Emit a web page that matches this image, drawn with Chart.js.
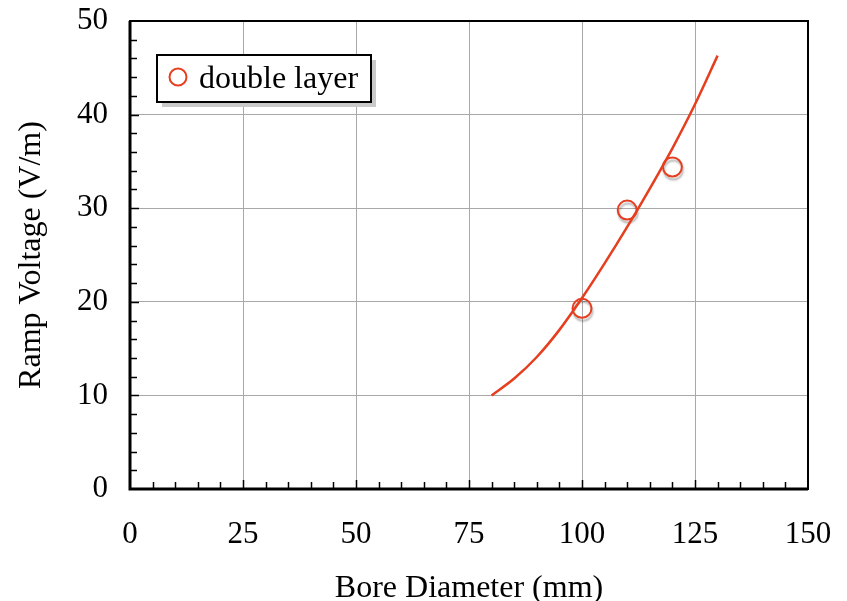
<!DOCTYPE html>
<html lang="en">
<head>
    <meta charset="UTF-8">
    <title>Ramp Voltage vs Bore Diameter</title>
    <script src="https://cdn.jsdelivr.net/npm/chart.js"></script>
    <style>
        * { margin: 0; padding: 0; box-sizing: border-box; }
        body { background: #fff; width: 847px; height: 601px; overflow: hidden; }
        canvas { display: block; }
    </style>
</head>
<body>
    <canvas id="rampChart" width="847" height="601"></canvas>

    <script>
        // fitted curve
        const curveX = [80, 85, 90, 95, 100, 105, 110, 115, 120, 125, 130];
        const curveY = [10, 11.8, 14.1, 17.0, 20.4, 24.1, 28.0, 32.1, 36.4, 41.1, 46.3];

        // measured points
        const seriesName = 'double layer';
        const pointX = [100, 110, 120];
        const pointY = [19.3, 29.8, 34.4];

        // axes
        const xRange = [0, 150];
        const xStep = 25;
        const xMinor = 5;
        const yRange = [0, 50];
        const yStep = 10;
        const yMinor = 2;
        const xTitle = 'Bore Diameter (mm)';
        const yTitle = 'Ramp Voltage (V/m)';

        const RED = '#e63e1e';
        const SERIF = "'Liberation Serif', 'DejaVu Serif', serif";

        // shadow under the circles
        const shadowPlugin = {
            id: 'shadow',
            beforeDatasetDraw(chart, args) {
                if (args.index !== 1) return;
                const ctx = chart.ctx;
                ctx.save();
                ctx.shadowColor = 'rgba(0,0,0,0.3)';
                ctx.shadowOffsetX = 1;
                ctx.shadowOffsetY = 3;
                ctx.shadowBlur = 2;
            },
            afterDatasetDraw(chart, args) {
                if (args.index !== 1) return;
                chart.ctx.restore();
            }
        };

        // frame, inward ticks and the boxed legend
        const framePlugin = {
            id: 'frame',
            afterDraw(chart) {
                const ctx = chart.ctx;
                const a = chart.chartArea;
                const xs = chart.scales.x, ys = chart.scales.y;
                ctx.save();
                ctx.strokeStyle = '#000';

                // minor / major ticks pointing inside
                ctx.lineWidth = 1.5;
                ctx.beginPath();
                for (let v = xRange[0] + xMinor; v < xRange[1]; v += xMinor) {
                    const px = Math.round(xs.getPixelForValue(v)) + 0.5;
                    const len = v % xStep === 0 ? 9 : 7;
                    ctx.moveTo(px, a.bottom);
                    ctx.lineTo(px, a.bottom - len);
                }
                for (let v = yRange[0] + yMinor; v < yRange[1]; v += yMinor) {
                    const py = Math.round(ys.getPixelForValue(v)) + 0.5;
                    const len = v % yStep === 0 ? 9 : 7;
                    ctx.moveTo(a.left, py);
                    ctx.lineTo(a.left + len, py);
                }
                ctx.stroke();

                // box
                ctx.lineWidth = 2;
                ctx.strokeRect(a.left, a.top, a.right - a.left, a.bottom - a.top);
                ctx.lineWidth = 3;
                ctx.beginPath();
                ctx.moveTo(a.left, a.top);
                ctx.lineTo(a.left, a.bottom);
                ctx.lineTo(a.right, a.bottom);
                ctx.stroke();

                // legend
                const lx = 157, ly = 55, lw = 214, lh = 47;
                ctx.fillStyle = '#c9c9c9';
                ctx.fillRect(lx + 5, ly + 5, lw, lh);
                ctx.fillStyle = '#fff';
                ctx.fillRect(lx, ly, lw, lh);
                ctx.lineWidth = 2;
                ctx.strokeRect(lx, ly, lw, lh);
                ctx.strokeStyle = RED;
                ctx.beginPath();
                ctx.arc(lx + 21, ly + 22, 8.5, 0, Math.PI * 2);
                ctx.stroke();
                ctx.fillStyle = '#000';
                ctx.font = '32px ' + SERIF;
                ctx.textBaseline = 'alphabetic';
                ctx.fillText(chart.data.datasets[1].label, lx + 42, ly + 33);
                ctx.restore();
            }
        };

        const ctx = document.getElementById('rampChart').getContext('2d');
        new Chart(ctx, {
            type: 'scatter',
            data: {
                datasets: [{
                    label: 'fit',
                    type: 'line',
                    data: curveX.map((x, i) => ({ x: x, y: curveY[i] })),
                    borderColor: RED,
                    borderWidth: 2.5,
                    pointRadius: 0,
                    cubicInterpolationMode: 'monotone',
                    fill: false,
                    order: 1
                }, {
                    label: seriesName,
                    data: pointX.map((x, i) => ({ x: x, y: pointY[i] })),
                    borderColor: RED,
                    backgroundColor: 'rgba(0,0,0,0)',
                    borderWidth: 2,
                    pointRadius: 9.5,
                    pointStyle: 'circle',
                    order: 2
                }]
            },
            options: {
                responsive: false,
                animation: false,
                layout: { padding: { top: 21, right: 39, left: 0, bottom: 0 } },
                plugins: {
                    legend: { display: false },
                    tooltip: { enabled: false }
                },
                scales: {
                    x: {
                        type: 'linear',
                        min: xRange[0],
                        max: xRange[1],
                        afterFit(scale) {
                            scale.height = 112;
                            scale.paddingLeft = 0;
                            scale.paddingRight = 0;
                        },
                        grid: { color: '#a8a8a8', lineWidth: 1, drawTicks: false },
                        border: { display: false },
                        ticks: {
                            stepSize: xStep,
                            autoSkip: false,
                            maxRotation: 0,
                            padding: 27,
                            color: '#000',
                            font: { family: SERIF, size: 31 }
                        },
                        title: {
                            display: true,
                            text: xTitle,
                            color: '#000',
                            font: { family: SERIF, size: 32, lineHeight: 0.8 },
                            padding: 0
                        }
                    },
                    y: {
                        min: yRange[0],
                        max: yRange[1],
                        afterFit(scale) {
                            scale.width = 130;
                            scale.paddingTop = 0;
                            scale.paddingBottom = 0;
                        },
                        grid: { color: '#a8a8a8', lineWidth: 1, drawTicks: false },
                        border: { display: false },
                        ticks: {
                            stepSize: yStep,
                            autoSkip: false,
                            padding: 22,
                            color: '#000',
                            font: { family: SERIF, size: 31 }
                        },
                        title: {
                            display: true,
                            text: yTitle,
                            color: '#000',
                            font: { family: SERIF, size: 32, lineHeight: 0.8 },
                            padding: 19
                        }
                    }
                }
            },
            plugins: [shadowPlugin, framePlugin]
        });
    </script>
</body>
</html>
